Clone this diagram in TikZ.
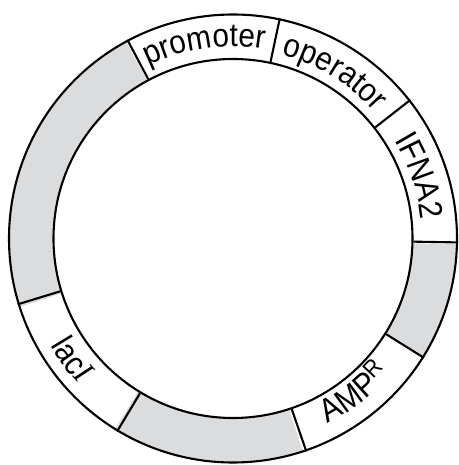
\documentclass[tikz,border=0pt]{standalone}
\usepackage{fontspec}
\setmainfont{Liberation Sans}
\newfontfamily\labfont[FakeStretch=0.9]{Liberation Sans}
\newfontfamily\tnr[FakeStretch=0.9]{Liberation Serif}
\usetikzlibrary{decorations.text}
\definecolor{seg}{RGB}{219,220,222}
\newcommand\lab{\labfont\fontsize{33}{39}\selectfont}
\newcommand\labsup{\labfont\fontsize{24}{28}\selectfont}
\begin{document}
\begin{tikzpicture}[x=1pt,y=1pt,
  ringline/.style={line width=2.1pt, black},
  segfill/.style={fill=seg},
  arclabel/.style={decorate, decoration={text along path, text align=center, text={#1}}},
  arcleft/.style={decorate, decoration={text along path, text align=left, text={#1}}}]
\useasboundingbox (-233,-226.5) rectangle (225,238.5);
\def\Ro{224pt}
\def\Ri{179.5pt}
% gray segments
\fill[segfill] (118.5:\Ro) arc[start angle=118.5, end angle=197.8, radius=\Ro] -- (197.8:\Ri) arc[start angle=197.8, end angle=118.5, radius=\Ri] -- cycle;
\fill[segfill] (-32:\Ro) arc[start angle=-32, end angle=-1.5, radius=\Ro] -- (-1.5:\Ri) arc[start angle=-1.5, end angle=-32, radius=\Ri] -- cycle;
\fill[segfill] (-121.8:\Ro) arc[start angle=-121.8, end angle=-71.8, radius=\Ro] -- (-71.8:\Ri) arc[start angle=-71.8, end angle=-121.8, radius=\Ri] -- cycle;
% circles
\node[ringline, draw, circle, minimum size=448pt, inner sep=0pt] (outer) at (0,0) {};
\node[ringline, draw, circle, minimum size=359pt, inner sep=0pt] (inner) at (0,0) {};
% dividers
\foreach \a in {118.5,78.3,38.6,-1.5,-32,-71.8,-121.8,197.8}
  \draw[ringline] (inner.\a) -- (outer.\a);
% labels
\path[arclabel={|\lab|promoter}] (118.5:192pt) arc[start angle=118.5, end angle=78.3, radius=192pt];
\path[arclabel={|\lab|operator}] (78.3:190pt) arc[start angle=78.3, end angle=38.6, radius=190pt];
\path[arclabel={|\lab|IFNA2}] (38.6:189pt) arc[start angle=38.6, end angle=-1.5, radius=189pt];
\path[arcleft={|\lab|AMP}] (-62.9:208pt) arc[start angle=-62.9, end angle=-30, radius=208pt];
\path[arcleft={|\labsup|R}, decoration={raise=9pt}] (-45.0:208pt) arc[start angle=-45.0, end angle=-20, radius=208pt];
\path[arclabel={|\lab|lac|\tnr\itshape\fontsize{33}{39}\selectfont|I}] (197.8:212pt) arc[start angle=197.8, end angle=236, radius=212pt];
\end{tikzpicture}
\end{document}
